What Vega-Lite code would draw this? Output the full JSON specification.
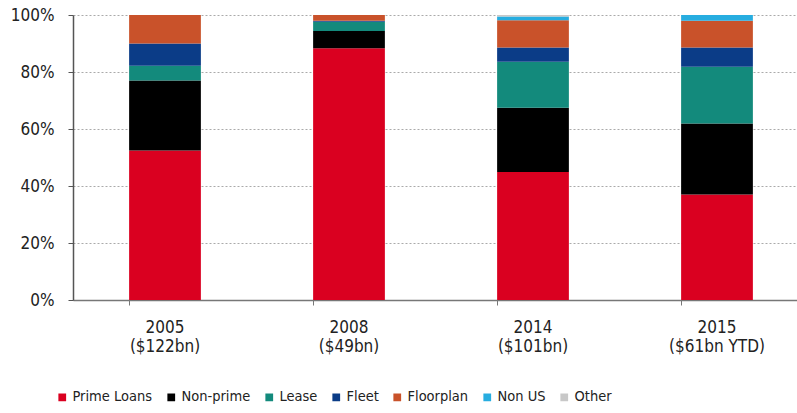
{
  "$schema": "https://vega.github.io/schema/vega-lite/v6.json",
  "autosize": "none",
  "width": 724,
  "height": 285,
  "padding": {"left": 73, "top": 15, "right": 0, "bottom": 113},
  "background": "white",
  "config": {
    "view": {"stroke": null},
    "font": "Liberation Sans Narrow, DejaVu Sans Condensed, Liberation Sans, sans-serif"
  },
  "data": {
    "values": [
      {"period": "2005|($122bn)", "segment": "Prime Loans", "order": 1, "share": 52.5},
      {"period": "2005|($122bn)", "segment": "Non-prime", "order": 2, "share": 24.5},
      {"period": "2005|($122bn)", "segment": "Lease", "order": 3, "share": 5.2},
      {"period": "2005|($122bn)", "segment": "Fleet", "order": 4, "share": 7.8},
      {"period": "2005|($122bn)", "segment": "Floorplan", "order": 5, "share": 10.0},
      {"period": "2005|($122bn)", "segment": "Non US", "order": 6, "share": 0},
      {"period": "2005|($122bn)", "segment": "Other", "order": 7, "share": 0},
      {"period": "2008|($49bn)", "segment": "Prime Loans", "order": 1, "share": 88.3},
      {"period": "2008|($49bn)", "segment": "Non-prime", "order": 2, "share": 6.1},
      {"period": "2008|($49bn)", "segment": "Lease", "order": 3, "share": 3.2},
      {"period": "2008|($49bn)", "segment": "Fleet", "order": 4, "share": 0.4},
      {"period": "2008|($49bn)", "segment": "Floorplan", "order": 5, "share": 2.0},
      {"period": "2008|($49bn)", "segment": "Non US", "order": 6, "share": 0},
      {"period": "2008|($49bn)", "segment": "Other", "order": 7, "share": 0},
      {"period": "2014|($101bn)", "segment": "Prime Loans", "order": 1, "share": 44.9},
      {"period": "2014|($101bn)", "segment": "Non-prime", "order": 2, "share": 22.6},
      {"period": "2014|($101bn)", "segment": "Lease", "order": 3, "share": 16.1},
      {"period": "2014|($101bn)", "segment": "Fleet", "order": 4, "share": 5.0},
      {"period": "2014|($101bn)", "segment": "Floorplan", "order": 5, "share": 9.6},
      {"period": "2014|($101bn)", "segment": "Non US", "order": 6, "share": 1.3},
      {"period": "2014|($101bn)", "segment": "Other", "order": 7, "share": 0.5},
      {"period": "2015|($61bn YTD)", "segment": "Prime Loans", "order": 1, "share": 37.0},
      {"period": "2015|($61bn YTD)", "segment": "Non-prime", "order": 2, "share": 24.9},
      {"period": "2015|($61bn YTD)", "segment": "Lease", "order": 3, "share": 19.9},
      {"period": "2015|($61bn YTD)", "segment": "Fleet", "order": 4, "share": 6.8},
      {"period": "2015|($61bn YTD)", "segment": "Floorplan", "order": 5, "share": 9.4},
      {"period": "2015|($61bn YTD)", "segment": "Non US", "order": 6, "share": 2.0},
      {"period": "2015|($61bn YTD)", "segment": "Other", "order": 7, "share": 0}
    ]
  },
  "mark": {"type": "bar"},
  "encoding": {
    "x": {
      "field": "period",
      "type": "nominal",
      "sort": null,
      "scale": {"range": [0, 736], "paddingInner": 0.61, "paddingOuter": 0.305},
      "axis": {
        "title": null,
        "labelAngle": 0,
        "labelExpr": "split(datum.label, '|')",
        "labelFontSize": 17,
        "labelColor": "#222222",
        "labelPadding": 14,
        "labelLineHeight": 19,
        "bandPosition": 0,
        "tickColor": "#777777",
        "tickSize": 5,
        "domainColor": "#777777",
        "domainWidth": 1.5,
        "grid": false
      }
    },
    "y": {
      "field": "share",
      "type": "quantitative",
      "stack": "normalize",
      "scale": {"domain": [0, 1]},
      "axis": {
        "title": null,
        "format": ".0%",
        "values": [0, 0.2, 0.4, 0.6, 0.8, 1],
        "labelFontSize": 17,
        "labelColor": "#222222",
        "labelPadding": 14,
        "tickColor": "#555555",
        "tickSize": 5,
        "domainColor": "#555555",
        "domainWidth": 1.5,
        "grid": true,
        "gridColor": "#aaaaaa",
        "gridDash": [2, 2],
        "gridWidth": 1
      }
    },
    "color": {
      "field": "segment",
      "type": "nominal",
      "scale": {
        "domain": ["Prime Loans", "Non-prime", "Lease", "Fleet", "Floorplan", "Non US", "Other"],
        "range": ["#DA0020", "#000000", "#138A7C", "#0B3C87", "#C9522A", "#27ADE0", "#C8C8C8"]
      },
      "legend": {
        "title": null,
        "orient": "none",
        "direction": "horizontal",
        "legendX": -18,
        "legendY": 375,
        "symbolType": "square",
        "symbolSize": 60,
        "symbolStrokeWidth": 0,
        "labelFontSize": 14.5,
        "labelColor": "#222222",
        "labelOffset": 3,
        "columnPadding": 11
      }
    },
    "order": {"field": "order", "type": "quantitative"}
  }
}
